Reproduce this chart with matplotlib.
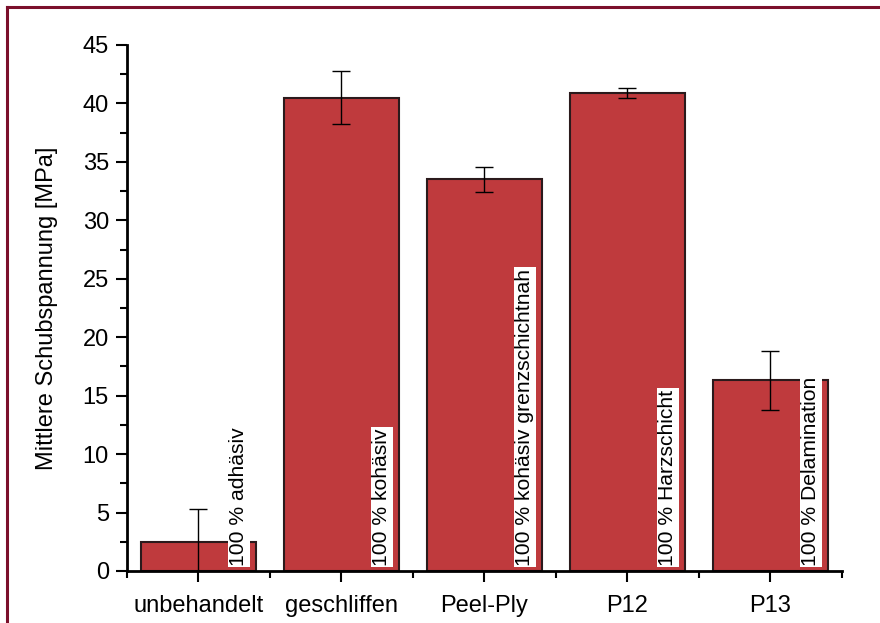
import matplotlib.pyplot as plt
from matplotlib.lines import Line2D
from matplotlib.ticker import MultipleLocator

plt.rcParams['font.family'] = ['Liberation Sans', 'DejaVu Sans']

proben = ["unbehandelt", "geschliffen", "Peel-Ply", "P12", "P13"]
spannung = [2.5, 40.5, 33.5, 40.9, 16.3]
fehler = [2.8, 2.25, 1.05, 0.4, 2.55]
bruchbild = ["100 % adhäsiv", "100 % kohäsiv", "100 % kohäsiv grenzschichtnah",
             "100 % Harzschicht", "100 % Delamination"]

fig = plt.figure(figsize=(8.8, 6.23), dpi=100)
ax = fig.add_axes([0.1443, 0.0835, 0.8125, 0.8443])

x = range(len(proben))
ax.bar(x, spannung, width=0.8, color="#bf3a3d", edgecolor="#2b1a1c", linewidth=1.5, zorder=2)
ax.errorbar(x, spannung, yerr=fehler, fmt="none", ecolor="black", elinewidth=1,
            capsize=6.5, capthick=1, zorder=3)

# Bruchbild-Beschriftung senkrecht im Balken
for i, txt in enumerate(bruchbild):
    ax.text(i + 0.28, 0.45, txt, rotation=90, ha="center", va="bottom", fontsize=15.2,
            bbox=dict(facecolor="white", edgecolor="none", pad=1.0), zorder=4)

ax.set_xlim(-0.5, 4.5)
ax.set_ylim(0, 45)
ax.set_xticks(list(x))
ax.set_xticklabels(proben, fontsize=17)
ax.xaxis.set_minor_locator(MultipleLocator(1, offset=0.5))
ax.yaxis.set_major_locator(MultipleLocator(5))
ax.yaxis.set_minor_locator(MultipleLocator(2.5))
ax.tick_params(axis="both", which="major", direction="out", length=8, width=1.5, labelsize=17)
ax.tick_params(axis="x", which="major", pad=9)
ax.tick_params(axis="y", which="major", pad=5)
ax.tick_params(axis="both", which="minor", direction="out", length=5, width=1.5)
ax.set_ylabel("Mittlere Schubspannung [MPa]", fontsize=17, labelpad=18)

for s in ["top", "right"]:
    ax.spines[s].set_visible(False)
for s in ["left", "bottom"]:
    ax.spines[s].set_linewidth(2)

# Rahmen oben und links
rot = "#7b0f2b"
fig.add_artist(Line2D([6.5 / 880, 6.5 / 880], [0, 1 - 6.5 / 623], color=rot, lw=2.2,
                      transform=fig.transFigure))
fig.add_artist(Line2D([6.5 / 880, 1], [1 - 6.5 / 623, 1 - 6.5 / 623], color=rot, lw=2.2,
                      transform=fig.transFigure))

fig.savefig("out.png", dpi=100)
